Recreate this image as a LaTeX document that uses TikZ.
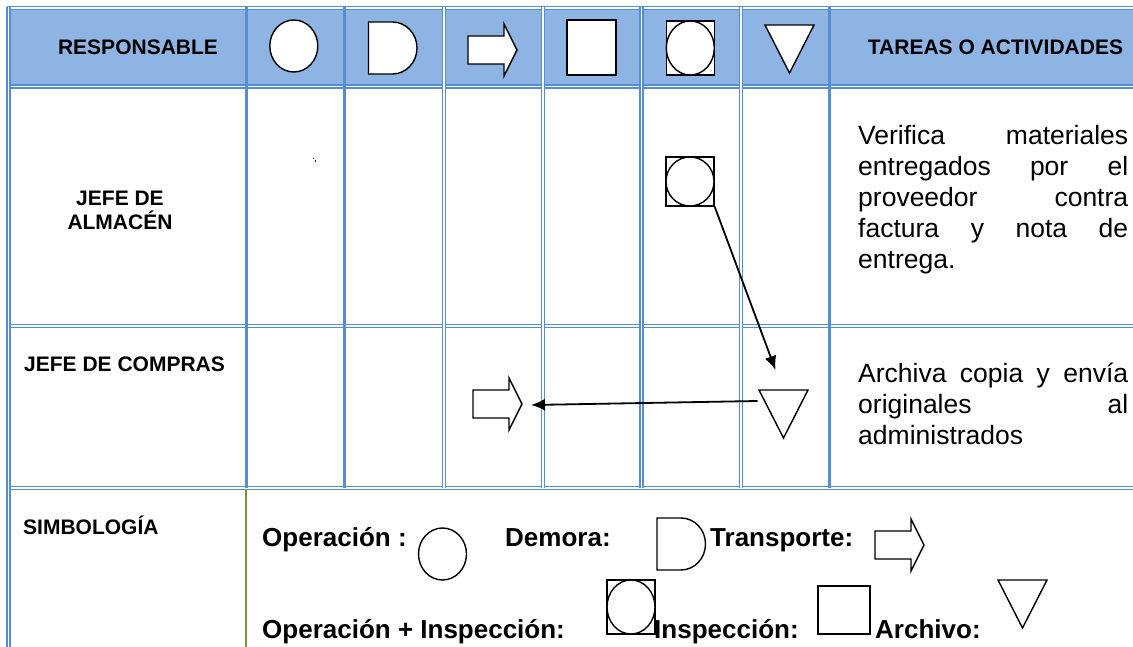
\documentclass[tikz,border=0pt]{standalone}
\usepackage{fontspec}
\setmainfont{Liberation Sans}
\usepackage{tikz}
\usetikzlibrary{calc,positioning,shapes.geometric}
\usetikzlibrary{arrows.meta}
\tikzset{>={Latex[width=12pt,length=14pt]}}
\definecolor{grid_blue}{RGB}{85,142,213}
\definecolor{head_blue}{RGB}{141,180,226}
\definecolor{grid_olive}{RGB}{119,147,60}

\begin{document}
\begin{tikzpicture}[
		x=1pt, y=-1pt,
		every node/.style={inner sep=0pt, font=\fontsize{21}{24}\selectfont\bfseries},
		gridline/.style={draw=grid_blue, line width=3pt},
		gridpair/.style={draw=grid_blue, line width=1.5pt, double=white, double distance=1.8pt},
		sym/.style={draw=black, line width=1.4pt, fill=white},
		oper/.style={sym, ellipse, minimum width=48pt, minimum height=52pt},
		insp/.style={sym, rectangle, minimum width=49pt, minimum height=55pt},
		flow/.style={->, line width=1.8pt},
		tarea/.style={anchor=north west, align=left, font=\fontsize{26.5}{31}\selectfont},
		simbolo/.style={anchor=base west, font=\fontsize{26}{30}\selectfont\bfseries},
	]
	\useasboundingbox (0,0) rectangle (1133,647);

	\newcommand{\demora}[2]{%
		\draw[sym] #1 -- ++(24,0) arc[start angle=-90, end angle=90, x radius=24.5, y radius=26] -- ++(-24,0) -- cycle;
		\coordinate (#2) at #1;
	}
	\newcommand{\transp}[2]{%
		\draw[sym] #1 -- ++(-13,-26) -- ++(0,12) -- ++(-36,0) -- ++(0,28) -- ++(36,0) -- ++(0,12) -- cycle;
		\coordinate (#2) at #1;
	}
	\newcommand{\archivo}[2]{%
		\draw[sym] ($#1+(-24.5,0)$) -- ++(49,0) -- ++(-24.5,48) -- cycle;
		\coordinate (#2) at #1;
	}
	\newcommand{\opinsp}[3]{%
		\node[insp, minimum width=48pt, minimum height=#3] (#2) at #1 {};
		\node[oper, minimum width=48pt, minimum height=#3] (#2-c) at #1 {};
	}
	\newcommand{\linea}[1]{\makebox[270pt][s]{#1}}

	% header band and table lines
	\fill[head_blue] (8.5,8) rectangle (1140,86.5);
	\foreach \ry in {8,86.5,326,488}{
			\draw[gridpair] (7,\ry) -- (1140,\ry);
		}
	\foreach \cx in {246,344.5,829}{
			\draw[gridline] (\cx,7) -- (\cx,488);
		}
	\foreach \cx in {444,543,641.5,741}{
			\draw[gridpair] (\cx,7) -- (\cx,488);
		}
	\draw[gridpair] (8.5,7) -- (8.5,650);
	\draw[draw=grid_olive, line width=2.6pt] (246,489) -- (246,650);

	% header
	\node[anchor=base] (responsable) at (138,55) {RESPONSABLE};
	\node[anchor=base] (tareas) at (995.5,55) {TAREAS O ACTIVIDADES};
	\node[oper] (oper-head) at (293.8,46) {};
	\demora{(368.5,22)}{demora-head}
	\transp{(517,50)}{transp-head}
	\node[insp] (insp-head) at (591.3,47.5) {};
	\opinsp{(690.3,48)}{opinsp-head}{54pt}
	\archivo{(789.5,25)}{arch-head}

	% rows
	\node[align=center, anchor=north, font=\fontsize{21}{24}\selectfont\bfseries] (jefe-almacen) at (120,191) {JEFE DE\\ALMACÉN};
	\fill (312.5,158) rectangle ++(1.5,1.5);
	\fill (314.5,160.5) rectangle ++(1.5,1.5);
	\opinsp{(690,181.5)}{opinsp-alm}{49pt}
	\node[tarea] (tarea-almacen) at (858,125) {\linea{Verifica materiales}\\\linea{entregados por el}\\\linea{proveedor contra}\\\linea{factura y nota de}\\entrega.};

	\node[anchor=base west] (jefe-compras) at (24,371) {JEFE DE COMPRAS};
	\transp{(522,404)}{transp-compras}
	\archivo{(783.5,390)}{arch-compras}
	\node[tarea] (tarea-compras) at (858,363) {\linea{Archiva copia y envía}\\\linea{originales al}\\administrados};

	\coordinate (arch-in) at ($(arch-compras)+(-8,-20)$);
	\coordinate (arch-out) at ($(arch-compras)+(-26,11)$);
	\coordinate (transp-in) at ($(transp-compras)+(9,1)$);
	\draw[flow] (opinsp-alm.south east) -- (arch-in);
	\draw[flow] (arch-out) -- (transp-in);

	% simbologia
	\node[anchor=base west] (simbologia) at (23,534) {SIMBOLOGÍA};
	\node[simbolo] (ley-oper) at (262,546) {Operación :};
	\node[oper] (oper-ley) at (442.5,554) {};
	\node[simbolo] (ley-demora) at (505,546) {Demora:};
	\demora{(657,518)}{demora-ley}
	\node[simbolo] (ley-transp) at (710,546) {Transporte:};
	\transp{(924,545)}{transp-ley}
	\node[simbolo] (ley-opinsp) at (262,638) {Operación + Inspección:};
	\opinsp{(631,607)}{opinsp-ley}{54pt}
	\node[simbolo] (ley-insp) at (654,638) {Inspección:};
	\node[insp, minimum width=52pt, minimum height=48pt] (insp-ley) at (844,610) {};
	\node[simbolo] (ley-archivo) at (875,638) {Archivo:};
	\archivo{(1022.5,580)}{arch-ley}

\end{tikzpicture}
\end{document}
